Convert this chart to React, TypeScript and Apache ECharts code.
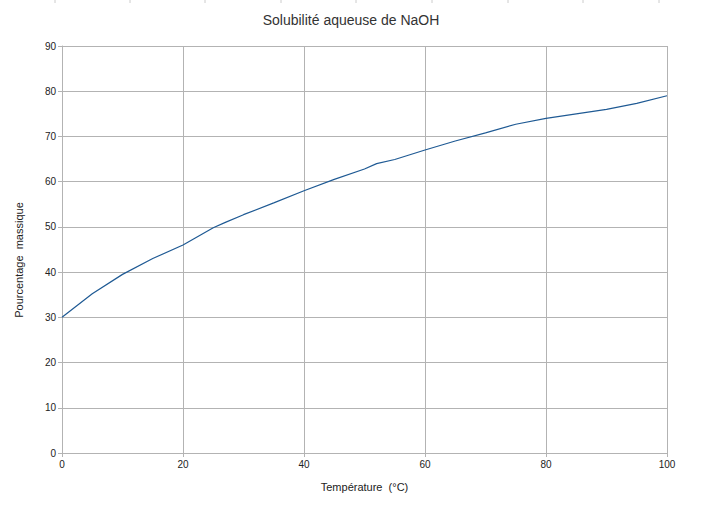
import React, { useEffect, useRef } from "react";
import * as echarts from "echarts";

const temperatures = [0, 5, 10, 15, 20, 25, 27, 30, 35, 40, 45, 50, 52, 55, 60, 65, 70, 75, 80, 85, 90, 95, 100];
const percentages = [30, 35.2, 39.5, 43, 46, 49.8, 51, 52.7, 55.3, 58, 60.5, 62.8, 64, 64.9, 67, 69, 70.8, 72.7, 74, 75, 76, 77.3, 79];
const topMarks = [55, 130, 205, 281, 356, 432, 508, 583, 659];

export default function App() {
  const ref = useRef<HTMLDivElement>(null);
  useEffect(() => {
    if (!ref.current) return;
    const chart = echarts.init(ref.current, null, { renderer: "svg" });
    const grey = "#b3b3b3";
    chart.setOption({
      animation: false,
      backgroundColor: "#ffffff",
      title: {
        text: "Solubilité aqueuse de NaOH",
        left: "center",
        top: 8,
        textStyle: { fontFamily: "Liberation Sans", fontSize: 14, fontWeight: "normal", color: "#333333" },
      },
      graphic: [
        ...topMarks.map((x) => ({
          type: "line",
          shape: { x1: x, y1: 0, x2: x, y2: 3 },
          style: { stroke: "#cccccc", lineWidth: 1 },
        })),
        {
          type: "text",
          x: 19,
          y: 260,
          rotation: Math.PI / 2,
          style: {
            text: "Pourcentage  massique",
            fontFamily: "Liberation Sans",
            fontSize: 11,
            fill: "#222",
            align: "center",
            verticalAlign: "middle",
          },
        },
      ],
      grid: { left: 62, right: 35, top: 46, bottom: 59 },
      xAxis: {
        type: "value",
        min: 0,
        max: 100,
        interval: 20,
        name: "Température  (°C)",
        nameLocation: "middle",
        nameGap: 28,
        nameTextStyle: { fontFamily: "Liberation Sans", fontSize: 11, color: "#222" },
        axisLine: { show: true, lineStyle: { color: grey } },
        axisTick: { show: true, length: 4, lineStyle: { color: grey } },
        axisLabel: { fontFamily: "Liberation Sans", fontSize: 10, color: "#222", margin: 6 },
        splitLine: { show: true, lineStyle: { color: grey, width: 1 } },
      },
      yAxis: {
        type: "value",
        min: 0,
        max: 90,
        interval: 10,
        axisLine: { show: true, lineStyle: { color: grey } },
        axisTick: { show: true, length: 4, lineStyle: { color: grey } },
        axisLabel: { fontFamily: "Liberation Sans", fontSize: 10, color: "#222", margin: 6 },
        splitLine: { show: true, lineStyle: { color: grey, width: 1 } },
      },
      series: [
        {
          type: "line",
          data: temperatures.map((t, i) => [t, percentages[i]]),
          showSymbol: false,
          symbol: "none",
          lineStyle: { color: "#1f5a94", width: 1.2 },
        },
      ],
    });
    return () => chart.dispose();
  }, []);
  return <div ref={ref} style={{ width: 702, height: 512, position: "absolute", left: 0, top: 0 }} />;
}
